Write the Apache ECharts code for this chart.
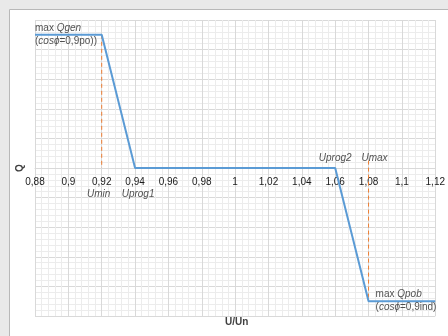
<!DOCTYPE html>
<html><head><meta charset="utf-8">
<script src="https://cdn.jsdelivr.net/npm/echarts@6/dist/echarts.min.js"></script>
<style>html,body{margin:0;padding:0;background:#e9e9e9;}#c{width:448px;height:336px;}</style>
</head><body><div id="c"></div>
<script>
// Data
const uValues = [0.88, 0.92, 0.94, 1.06, 1.08, 1.12];
const qValues = [0.9, 0.9, 0, 0, -0.9, -0.9];
const uminLine = [[0.92, 0.9], [0.92, 0]];
const umaxLine = [[1.08, 0.05], [1.08, -0.9]];
const xMin = 0.88, xMax = 1.12, xStep = 0.02;
const yMin = -1, yMax = 1, yStep = 0.2;
const annotations = [
  {name: 'qgen', coord: [0.88, 0.9], text: 'max {i|Qgen}\n({i|cosϕ}=0,9po))'},
  {name: 'qpob', coord: [1.08, -0.9], text: 'max {i|Qpob}\n({i|cosϕ}=0,9ind)'},
  {name: 'umin', coord: [0.92, 0], text: '{i|Umin}'},
  {name: 'uprog1', coord: [0.94, 0], text: '{i|Uprog1}'},
  {name: 'uprog2', coord: [1.06, 0], text: '{i|Uprog2}'},
  {name: 'umax', coord: [1.08, 0], text: '{i|Umax}'}
];
const labelStyle = {
  qgen: {align: 'left', verticalAlign: 'middle', offset: [0, 0]},
  qpob: {align: 'left', verticalAlign: 'middle', offset: [7, 0]},
  umin: {align: 'center', verticalAlign: 'middle', offset: [-3, 26]},
  uprog1: {align: 'center', verticalAlign: 'middle', offset: [3, 26]},
  uprog2: {align: 'center', verticalAlign: 'middle', offset: [0, -10]},
  umax: {align: 'center', verticalAlign: 'middle', offset: [6, -10]}
};
const FONT = '"Liberation Sans", Arial, sans-serif';
const chart = echarts.init(document.getElementById('c'), null, {renderer: 'canvas'});
const fmt = v => parseFloat(v.toFixed(2)).toString().replace('.', ',');
chart.setOption({
  animation: false,
  textStyle: {fontFamily: FONT},
  graphic: [
    {type: 'rect', z: -10, silent: true, shape: {x: 9.5, y: 9.5, width: 460, height: 360},
     style: {fill: '#ffffff', stroke: '#b8b8b8', lineWidth: 1}},
    {type: 'text', left: 225, top: 317, style: {text: 'U/Un', font: 'bold 10px ' + FONT, fill: '#404040'}}
  ],
  grid: {left: 35, right: 9, top: 20, bottom: 20, containLabel: false},
  xAxis: {
    type: 'value', min: xMin, max: xMax, interval: xStep,
    axisLine: {show: true, onZero: true, lineStyle: {color: '#d9d9d9', width: 1}},
    axisTick: {show: false},
    axisLabel: {formatter: fmt, color: '#1a1a1a', fontSize: 10, margin: 9, fontFamily: FONT, showMinLabel: true, showMaxLabel: true},
    splitLine: {show: true, lineStyle: {color: '#d9d9d9', width: 1}},
    minorTick: {show: false, splitNumber: 5},
    minorSplitLine: {show: true, lineStyle: {color: '#ececec', width: 1}}
  },
  yAxis: {
    type: 'value', min: yMin, max: yMax, interval: yStep,
    name: 'Q', nameLocation: 'middle', nameGap: 10,
    nameTextStyle: {fontWeight: 'bold', fontSize: 10, color: '#404040', fontFamily: FONT},
    axisLine: {show: false, onZero: false}, axisTick: {show: false}, axisLabel: {show: false},
    splitLine: {show: true, lineStyle: {color: '#d9d9d9', width: 1}},
    minorTick: {show: false, splitNumber: 5},
    minorSplitLine: {show: true, lineStyle: {color: '#ececec', width: 1}}
  },
  series: [
    {type: 'line', data: uminLine, symbol: 'none', lineStyle: {color: '#ed7d31', width: 1, type: [4, 3]}, z: 3},
    {type: 'line', data: umaxLine, symbol: 'none', lineStyle: {color: '#ed7d31', width: 1, type: [4, 3]}, z: 3},
    {type: 'line', data: uValues.map((u, i) => [u, qValues[i]]), symbol: 'none',
     lineStyle: {color: '#5b9bd5', width: 2}, z: 4},
    {type: 'scatter', symbolSize: 0, z: 5,
     data: annotations.map(a => ({
       value: a.coord,
       label: Object.assign({show: true, position: 'inside', formatter: a.text,
         fontSize: 10, color: '#262626', lineHeight: 13, fontFamily: FONT,
         rich: {i: {fontStyle: 'italic', fontSize: 10, color: '#262626', lineHeight: 13, fontFamily: FONT}}},
         labelStyle[a.name])
     }))}
  ]
});
// Place the x axis (line + labels) on Q = 0, using the library's own scale
const yZero = chart.convertToPixel({yAxisIndex: 0}, 0);
const yBottom = chart.convertToPixel({yAxisIndex: 0}, yMin);
chart.setOption({xAxis: {offset: yZero - yBottom}});
</script></body></html>
